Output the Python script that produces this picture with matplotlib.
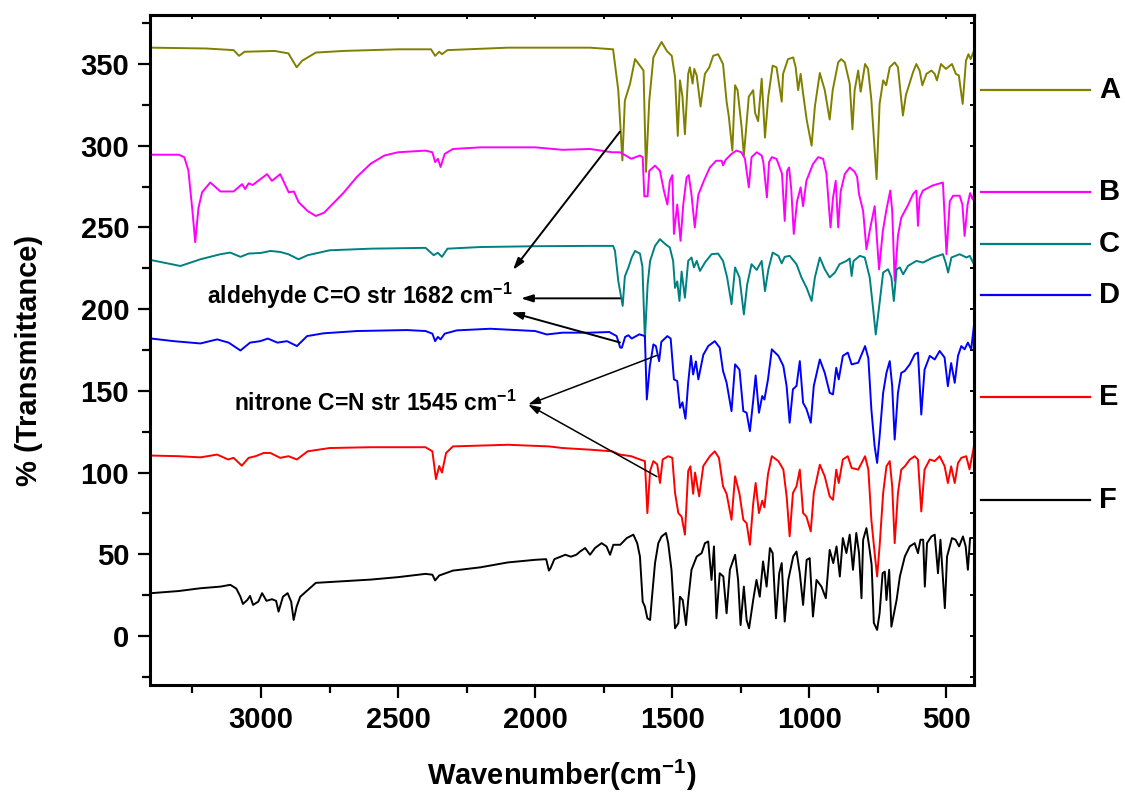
import matplotlib
matplotlib.use("Agg")
import matplotlib.pyplot as plt
from matplotlib.ticker import MultipleLocator

plt.rcParams['font.family'] = ['Liberation Sans', 'DejaVu Sans']
plt.rcParams['font.weight'] = 'bold'
plt.rcParams['mathtext.fontset'] = 'custom'
plt.rcParams['mathtext.rm'] = 'Liberation Sans:bold'
plt.rcParams['mathtext.bf'] = 'Liberation Sans:bold'
plt.rcParams['mathtext.default'] = 'bf'

# FTIR spectra, offset vertically: wavenumber (cm-1) and % transmittance
A_wn = [3400, 3200, 3100, 3080, 3060, 2950, 2900, 2870, 2850, 2800, 2700, 2500, 2380, 2365,
        2350, 2340, 2320, 2100, 1800, 1716, 1697, 1682, 1673, 1654, 1636, 1618, 1605, 1596,
        1584, 1569, 1551, 1539, 1520, 1502, 1490, 1480, 1472, 1463, 1454, 1442, 1436, 1426,
        1420, 1411, 1397, 1381, 1365, 1351, 1333, 1315, 1302, 1294, 1281, 1271, 1262, 1247,
        1239, 1230, 1221, 1205, 1198, 1187, 1174, 1162, 1150, 1134, 1120, 1101, 1096, 1078,
        1059, 1050, 1041, 1032, 1023, 1010, 992, 980, 962, 944, 926, 915, 895, 884, 871, 853,
        843, 835, 822, 813, 797, 786, 774, 765, 755, 744, 731, 720, 707, 689, 677, 659, 648,
        622, 610, 598, 588, 573, 555, 543, 535, 520, 502, 480, 466, 455, 441, 429, 420, 412, 400]
A_T = [360, 359.5, 358.5, 355, 357.5, 358, 356.5, 348, 352, 357, 358, 359, 359, 355,
       357.5, 356, 358.5, 360, 360, 359, 334, 291, 327.6, 338, 353, 349, 346, 284,
       327.6, 354, 360, 363.5, 358, 355, 342, 306, 340, 330, 307, 344, 348, 338,
       347, 343, 324, 344, 348, 355, 356, 350, 327, 318, 297, 337, 334, 311,
       294, 312, 330, 334, 320, 315, 341, 305, 330, 349, 348, 327, 344, 353,
       354, 348, 334, 344, 332, 316, 300, 324, 344.5, 334, 316, 334, 351, 353, 351, 338,
       310, 334, 346, 333, 350, 347, 328, 305, 279.6, 325.6, 340, 337, 348, 351, 348, 318.5, 331,
       345, 350, 346, 337, 344, 346, 344, 340, 350, 347, 350, 344, 343, 325.6, 352, 356, 353, 358]

B_wn = [3400, 3300, 3280, 3265, 3250, 3240, 3228, 3215, 3185, 3148, 3100, 3069, 3058, 3045,
        3030, 2978, 2960, 2930, 2899, 2880, 2863, 2830, 2800, 2770, 2700, 2650, 2600, 2550,
        2500, 2400, 2375, 2365, 2355, 2345, 2330, 2300, 2200, 2000, 1900, 1800, 1760, 1720,
        1691, 1670, 1650, 1618, 1608, 1602, 1590, 1584, 1563, 1545, 1530, 1518, 1509, 1500,
        1494, 1482, 1470, 1460, 1448, 1440, 1430, 1418, 1405, 1385, 1363, 1340, 1320, 1315,
        1305, 1284, 1266, 1248, 1235, 1221, 1211, 1192, 1174, 1168, 1155, 1147, 1137, 1120,
        1108, 1100, 1090, 1081, 1074, 1066, 1057, 1045, 1032, 1023, 1011, 999, 987, 968, 950,
        938, 923, 914, 904, 895, 886, 871, 853, 835, 826, 819, 804, 792, 780, 762, 746, 732,
        720, 705, 698, 689, 677, 665, 641, 622, 610, 604, 598, 586, 550, 513, 500, 488, 476,
        452, 442, 434, 423, 414, 404, 400]
B_T = [294.5, 294.5, 293, 285, 260, 241, 262, 271.5, 277.5, 272, 272, 276.5, 273.5, 277,
       276, 282.6, 278.5, 282.6, 271.5, 272, 265.5, 260, 257, 259, 271, 281, 289, 294,
       296, 297, 296, 290, 292, 287, 295, 298, 299, 299, 297.5, 298, 297, 296,
       296, 294, 292, 294, 293, 269, 269, 284.6, 287.8, 284.6, 272, 264, 278.5, 282,
       246, 264, 241.8, 264, 280.6, 282, 270, 250, 270, 278.5, 286.7, 290.8, 290.8, 288,
       291.5, 295, 297, 296, 292, 274.5, 293, 296, 294, 290, 268.4, 290, 293, 292,
       286.7, 283, 254, 284.6, 286.7, 273, 246, 266, 274.5, 263, 278.5, 283.6, 288.8, 293, 292,
       283, 250, 268, 278.5, 250, 272, 282.6, 286.7, 284, 281, 270.4, 260, 236.7, 248, 263, 224.4, 248,
       260, 272.6, 260, 217.3, 245, 256, 263.5, 270.4, 272.6, 251, 268, 272.6, 275.7, 277.5, 233.6, 266, 269.4,
       269.4, 264, 244.8, 264, 271, 267, 270.4]

C_wn = [3400, 3294, 3221, 3148, 3112, 3075, 3045, 3000, 2966, 2930, 2900, 2863, 2830, 2750,
        2600, 2400, 2370, 2355, 2340, 2320, 2200, 2000, 1800, 1716, 1709, 1697, 1681, 1673,
        1660, 1648, 1636, 1618, 1609, 1600, 1590, 1581, 1563, 1545, 1527, 1509, 1497, 1490,
        1482, 1474, 1466, 1454, 1442, 1430, 1421, 1411, 1399, 1381, 1357, 1333, 1315, 1300,
        1284, 1271, 1255, 1239, 1227, 1211, 1192, 1174, 1162, 1150, 1134, 1113, 1101, 1090,
        1072, 1047, 1029, 1010, 992, 980, 962, 944, 926, 907, 890, 865, 853, 846, 839, 816,
        798, 780, 768, 758, 746, 731, 713, 701, 692, 682, 670, 658, 640, 610, 586, 549, 513,
        503, 494, 482, 452, 427, 415, 403]
C_T = [230, 226.4, 230.5, 233.6, 234.6, 232, 234, 234.4, 235.6, 235, 233.6, 230.5, 233, 236,
       237, 237.5, 233, 234.5, 232, 237, 238, 238.5, 238.7, 238.7, 235.6, 217.3, 202, 220,
       225.5, 231.6, 235.6, 234, 226, 181.5, 215, 229.5, 238.7, 242.8, 240, 237.7, 229.5, 213,
       217, 205, 223, 207, 229.5, 231.6, 225.5, 229.5, 223.4, 228.5, 233.6, 234, 229.5, 219.4,
       203, 225.5, 219.4, 196.8, 215, 227.5, 224, 229.5, 211, 224, 234.6, 232.6, 228, 232,
       232.6, 227.5, 219.4, 213, 205, 219.4, 231.6, 224.4, 219.4, 222.4, 227.5, 229.5, 231, 220.3, 229.5, 232.6,
       231.6, 219.4, 201, 184.5, 201, 222.4, 224.4, 219.4, 205, 224.4, 225.5, 221.3, 226.5, 229.5, 228.5, 231.6, 233.6,
       228.5, 222.4, 231.6, 233.6, 231.6, 232.6, 228.5]

D_wn = [3400, 3318, 3221, 3160, 3118, 3075, 3040, 3003, 2975, 2940, 2905, 2869, 2832, 2772,
        2650, 2468, 2400, 2375, 2365, 2355, 2345, 2330, 2286, 2164, 2000, 1958, 1900, 1800,
        1730, 1703, 1690, 1684, 1672, 1660, 1648, 1620, 1600, 1593, 1582, 1569, 1560, 1548,
        1540, 1518, 1506, 1494, 1482, 1472, 1463, 1452, 1442, 1432, 1424, 1414, 1405, 1387,
        1369, 1345, 1327, 1315, 1302, 1284, 1271, 1255, 1241, 1229, 1217, 1205, 1196, 1184,
        1172, 1164, 1151, 1137, 1113, 1095, 1083, 1072, 1060, 1047, 1035, 1023, 1011, 995,
        984, 962, 944, 926, 914, 902, 893, 878, 860, 846, 822, 797, 785, 774, 762, 753, 744,
        731, 719, 707, 698, 689, 677, 665, 652, 634, 616, 604, 592, 580, 561, 543, 525, 507,
        495, 483, 470, 458, 446, 434, 422, 410, 400]
D_T = [182, 180.4, 179, 181.5, 179.5, 174.7, 179.5, 180.4, 182, 179.5, 180.4, 177.4, 183.5, 185.2,
       186.6, 187.2, 186.6, 185, 180.4, 183, 181.5, 185, 187, 188, 186.6, 184.5, 185.6, 185.6,
       186, 183.5, 176.5, 176.4, 183, 184, 182, 184.6, 183.5, 144.7, 165, 178.4, 177.4, 168.2,
       180, 183.5, 182, 157, 156, 139.6, 143, 132.9, 155, 171.4, 160, 168, 157, 172,
       177.4, 180.4, 176.4, 162.2, 155, 137.6, 166.2, 163, 137.6, 136.6, 125.3, 144, 159.4, 136.6,
       146.8, 144.7, 157, 175.4, 171.4, 165.2, 152.8, 130.5, 151, 153, 168.2, 142.7, 139, 130.5,
       153, 169.2, 161, 148.8, 147.8, 164.1, 157, 171.4, 173.4, 166.2, 167.2, 177.4, 170, 138.6, 116, 105.9, 122,
       148.8, 161, 168.2, 152.8, 120.2, 148.8, 161, 162.2, 166.2, 172.3, 173.4, 135.5, 163, 171.4, 169.2, 174.4, 170.4,
       152.8, 167, 154.9, 171.4, 177.4, 175.4, 179.5, 175.4, 189.6]

E_wn = [3400, 3300, 3221, 3160, 3120, 3100, 3070, 3045, 3020, 2990, 2966, 2930, 2900, 2869,
        2830, 2750, 2600, 2400, 2375, 2362, 2350, 2340, 2325, 2300, 2100, 1950, 1900, 1800,
        1720, 1691, 1650, 1618, 1600, 1591, 1581, 1569, 1555, 1545, 1535, 1515, 1500, 1490,
        1478, 1466, 1454, 1442, 1434, 1424, 1417, 1402, 1387, 1363, 1345, 1330, 1315, 1302,
        1284, 1271, 1255, 1241, 1229, 1217, 1205, 1196, 1184, 1172, 1164, 1151, 1137, 1113,
        1095, 1083, 1072, 1060, 1047, 1035, 1023, 1011, 995, 984, 962, 944, 926, 914, 902,
        893, 878, 860, 846, 822, 797, 785, 774, 762, 753, 744, 731, 719, 707, 698, 689, 677,
        665, 652, 634, 616, 604, 592, 580, 561, 543, 525, 507, 495, 483, 470, 458, 446, 428,
        416, 400]
E_T = [110.4, 110, 109.3, 111, 108, 109, 104.2, 109, 110, 112, 112, 109, 110, 108,
       113, 115, 115.5, 115.5, 113, 96, 104, 100, 112, 116, 117, 116, 115, 114,
       113, 111, 110, 108, 107, 75.2, 101, 107, 105, 93.6, 108, 110, 109, 87.5,
       75.2, 73, 62, 101, 103.8, 87, 100, 85.4, 104, 110, 113, 109, 91.6, 87,
       71.1, 97.7, 87, 71.1, 69, 55.8, 81, 93.6, 75.2, 82.8, 78.7, 99, 110, 107,
       101.8, 85.4, 61, 87.5, 91.6, 101.8, 75.2, 73.1, 64, 87.5, 104.8, 97.7, 85.4, 83.3, 101.8,
       93.6, 108, 110, 102.8, 101.8, 110, 101.8, 71.1, 50.7, 36.4, 54.8, 87.5, 103.8, 107, 91.6, 56.8, 87.5,
       101.8, 103.8, 107.9, 110, 107.9, 76.2, 101.8, 108, 107, 110, 104, 93.6, 103.8, 93.6, 105.8, 109, 110,
       102, 116]

F_wn = [3400, 3300, 3221, 3148, 3112, 3090, 3075, 3066, 3050, 3040, 3029, 3010, 2996, 2980,
        2960, 2945, 2936, 2920, 2903, 2890, 2881, 2870, 2857, 2800, 2700, 2600, 2500, 2400,
        2375, 2365, 2350, 2300, 2200, 2100, 2000, 1960, 1950, 1944, 1930, 1890, 1870, 1850,
        1836, 1818, 1800, 1782, 1758, 1740, 1727, 1715, 1690, 1666, 1642, 1628, 1618, 1608,
        1600, 1591, 1581, 1575, 1563, 1551, 1539, 1523, 1515, 1503, 1490, 1478, 1472, 1462,
        1450, 1442, 1430, 1411, 1393, 1381, 1369, 1357, 1348, 1339, 1327, 1314, 1302, 1290,
        1271, 1260, 1251, 1239, 1229, 1220, 1205, 1193, 1181, 1169, 1156, 1144, 1134, 1122,
        1110, 1101, 1090, 1077, 1059, 1047, 1035, 1023, 1010, 999, 987, 974, 956, 940, 926,
        913, 901, 889, 878, 865, 853, 841, 829, 819, 810, 804, 792, 782, 773, 765, 753, 744,
        733, 725, 719, 709, 701, 682, 670, 652, 634, 616, 604, 595, 585, 579, 571, 555, 543,
        531, 522, 506, 498, 480, 467, 454, 440, 430, 422, 414, 404]
F_T = [26.2, 27.5, 29.2, 30.2, 31.3, 29, 24, 19.6, 22, 24.5, 19, 21, 26.2, 21.5,
       22.5, 21.5, 14.9, 24, 26.2, 21, 9.8, 18, 24, 32.5, 33.5, 34.5, 36, 38,
       37.5, 34, 37, 40, 42, 45, 46.6, 47, 40, 41.5, 47, 49.7, 48.5, 49.7,
       51.7, 53.8, 49.7, 53.8, 56.8, 54.8, 49.7, 55.8, 55.8, 59.9, 62, 56.8, 48.6, 21,
       18, 10.8, 9.8, 22, 44.6, 56.8, 60.9, 63, 56.8, 40.5, 4.7, 7.8, 24, 22,
       6.7, 22, 40.5, 48.6, 50.7, 56.8, 57.8, 34.3, 54.8, 10.8, 38.4, 36.4, 13.9, 40.5,
       49.7, 34.3, 6.7, 30.2, 9.8, 4.7, 22, 34.3, 24, 45.6, 30.2, 53.8, 50.7, 10.8,
       38.4, 44.6, 8.8, 34.3, 48.7, 51.7, 38.4, 19, 46.6, 47.6, 11.9, 34.3, 30.2, 23.1, 52.7,
       44.6, 54.8, 36.4, 59.9, 50.7, 62, 40.5, 63, 50.7, 23.1, 58.9, 66, 54.8, 43.5, 8, 3.7, 13.9,
       38.4, 39.4, 22, 40.5, 5.7, 22, 36.4, 48.6, 54.8, 56.8, 50.7, 58.9, 58.9, 30.2, 56.8, 60.9, 62,
       38.4, 58.9, 17, 48.6, 59.9, 58.9, 54.8, 60.9, 54.8, 40.5, 59.9, 60]

labels = ['A', 'B', 'C', 'D', 'E', 'F']
colors = ['#808000', '#ff00ff', '#008080', '#0000ff', '#ff0000', '#000000']
legend_y = [334, 271.5, 240, 208.5, 146, 83]

# band assignments: text anchor (wn, %T) and arrow tails on the spectra
ald_text = (3196, 203)
ald_tip_a = (2081, 224)
ald_tip_b = (2052, 206.6)
ald_tip_c = (2088, 198)
ald_tails = [(1691, 308.6), (1691, 206.6), (1691, 179.6)]
nit_text = (3100, 137.5)
nit_tip = (2026, 141.6)
nit_tails = [(1556, 171.7), (1556, 97.5)]

fig = plt.figure(figsize=(11.25, 7.93), dpi=100)
ax = fig.add_axes([0.1333, 0.1362, 0.7324, 0.8449])

series = [(A_wn, A_T), (B_wn, B_T), (C_wn, C_T), (D_wn, D_T), (E_wn, E_T), (F_wn, F_T)]
for (wn, t), c in zip(series, colors):
    ax.plot(wn, t, color=c, lw=1.4)

ax.set_xlim(3405, 400)
ax.set_ylim(-30, 380)

ax.xaxis.set_major_locator(MultipleLocator(500))
ax.xaxis.set_minor_locator(MultipleLocator(250))
ax.yaxis.set_major_locator(MultipleLocator(50))
ax.yaxis.set_minor_locator(MultipleLocator(25))
ax.tick_params(which='major', direction='out', length=9, width=1.6, labelsize=21, pad=6)
ax.tick_params(which='minor', direction='out', length=5.5, width=1.6)
for lab in ax.get_xticklabels() + ax.get_yticklabels():
    lab.set_fontweight('bold')
for sp in ax.spines.values():
    sp.set_linewidth(2.2)

# inward ticks on the top and right frame
top = ax.secondary_xaxis('top')
right = ax.secondary_yaxis('right')
top.xaxis.set_major_locator(MultipleLocator(500))
top.xaxis.set_minor_locator(MultipleLocator(250))
right.yaxis.set_major_locator(MultipleLocator(50))
right.yaxis.set_minor_locator(MultipleLocator(25))
for sec in (top, right):
    sec.tick_params(which='both', direction='in', length=3, width=1.4,
                    labeltop=False, labelright=False)
    for sp in sec.spines.values():
        sp.set_linewidth(2.2)

ax.text(0.5, -0.149, 'Wavenumber(cm$^{-1}$)', transform=ax.transAxes,
        ha='center', va='baseline', fontsize=21, fontweight='bold')
ax.text(-0.147, 0.485, '% (Transmittance)', transform=ax.transAxes,
        rotation=90, ha='center', va='center', fontsize=21, fontweight='bold')

# band labels with arrows
ax.text(*ald_text, 'aldehyde C=O str 1682 cm$^{-1}$', fontsize=16.5,
        fontweight='bold', va='baseline', ha='left')
ax.text(*nit_text, 'nitrone C=N str 1545 cm$^{-1}$', fontsize=16.5,
        fontweight='bold', va='baseline', ha='left')
arrow = dict(arrowstyle='-|>,head_length=0.7,head_width=0.22', color='black',
             lw=1.4, shrinkA=0, shrinkB=0)
for tail, tip in zip(ald_tails, [ald_tip_a, ald_tip_b, ald_tip_c]):
    ax.annotate('', xy=tip, xytext=tail, arrowprops=arrow)
thin = dict(arrow, lw=1.1)
for tail in nit_tails:
    ax.annotate('', xy=nit_tip, xytext=tail, arrowprops=thin)

# series key outside the right frame
trans = ax.get_yaxis_transform()
for lab, c, y in zip(labels, colors, legend_y):
    ax.plot([1.009, 1.141], [y, y], color=c, lw=1.6, transform=trans, clip_on=False)
    ax.text(1.152, y, lab, transform=trans, ha='left', va='center',
            fontsize=21, fontweight='bold')

fig.savefig('out.png', dpi=100)
